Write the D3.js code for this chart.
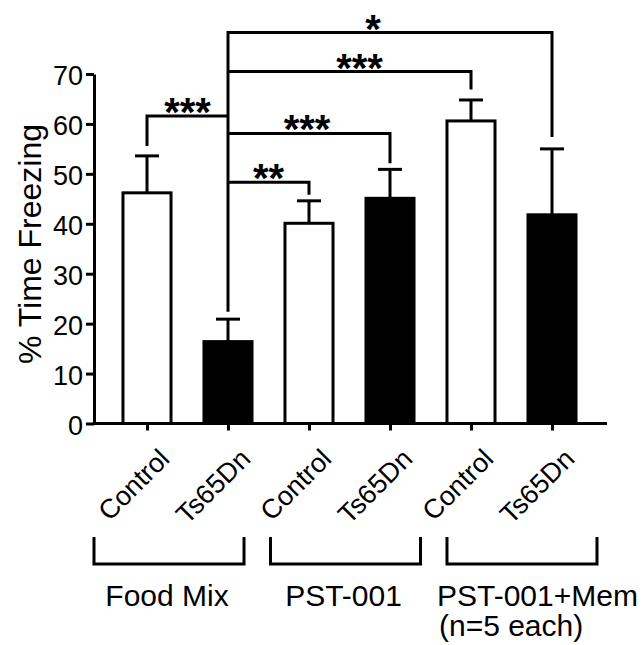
<!DOCTYPE html>
<html>
<head>
<meta charset="utf-8">
<script src="https://cdn.jsdelivr.net/npm/d3@7"></script>
<style>
  html, body { margin: 0; padding: 0; background: #fff; }
  svg { display: block; }
  text { font-family: Arial, "Liberation Sans", Helvetica, sans-serif; fill: #000; }
</style>
</head>
<body>
<svg id="chart" width="642" height="645"></svg>
<script>
// ---- data ----
const categories = ["Control", "Ts65Dn", "Control", "Ts65Dn", "Control", "Ts65Dn"];
const genotype   = ["control", "ts", "control", "ts", "control", "ts"];
const means      = [46.2, 16.4, 40.1, 45.1, 60.6, 41.8];
const sems       = [7.4, 4.5, 4.5, 5.8, 4.2, 13.2];
const groups     = ["Food Mix", "PST-001", "PST-001+Mem"];
const groupNote  = ["", "", "(n=5 each)"];
const yTicks     = [0, 10, 20, 30, 40, 50, 60, 70];
const yTitle     = "% Time Freezing";
// significance comparisons (hub = Ts65Dn Food Mix)
const sigPairs   = [[0, 1], [1, 2], [1, 3], [1, 4], [1, 5]];
const sigLevel   = [61.6, 48.3, 58.1, 70.5, 78.3];
const sigLegEnd  = [55.6, 45.8, 52.1, 66.9, 57.4];
const sigLabel   = ["***", "**", "***", "***", "*"];
const hubIndex   = 1;
const hubBottom  = 22.4;

// ---- layout ----
const svg = d3.select("#chart");
const SW = 3;
const axisLeftX = 94, axisRightX = 607;

const y = d3.scaleLinear().domain([0, 70]).range([423.5, 74]);
const x = d3.scaleBand().domain(d3.range(categories.length))
  .range([106.5, 592.5]).paddingInner(0.37).paddingOuter(0.185);
const cx = i => x(i) + x.bandwidth() / 2;
const gx = d3.scaleBand().domain(d3.range(groups.length))
  .range([94, 597]).paddingInner(0.15).paddingOuter(0);

// y axis
const yAxis = svg.append("g").attr("transform", `translate(${axisLeftX},0)`)
  .call(d3.axisLeft(y).tickValues(yTicks).tickSize(8).tickSizeOuter(0).tickPadding(3));
yAxis.select(".domain").attr("stroke", "#000").attr("stroke-width", SW);
yAxis.selectAll(".tick line").attr("stroke", "#000").attr("stroke-width", SW);
yAxis.selectAll(".tick text").attr("font-size", 27).attr("dy", "0.40em")
  .style("font-family", "Arial, 'Liberation Sans', sans-serif");

// y title
svg.append("text")
  .attr("transform", `translate(41,244) rotate(-90)`)
  .attr("text-anchor", "middle")
  .attr("font-size", 32)
  .text(yTitle);

// bars
svg.append("g").selectAll("rect").data(means).join("rect")
  .attr("x", (d, i) => x(i) + SW / 2)
  .attr("width", x.bandwidth() - SW)
  .attr("y", d => y(d))
  .attr("height", d => y(0) - y(d))
  .attr("fill", (d, i) => genotype[i] === "ts" ? "#000" : "#fff")
  .attr("stroke", "#000").attr("stroke-width", SW);

// error bars (upper only)
const eb = svg.append("g").attr("stroke", "#000").attr("stroke-width", SW);
means.forEach((m, i) => {
  eb.append("line").attr("x1", cx(i)).attr("x2", cx(i))
    .attr("y1", y(m)).attr("y2", y(m + sems[i]));
  eb.append("line").attr("x1", cx(i) - 12).attr("x2", cx(i) + 12)
    .attr("y1", y(m + sems[i])).attr("y2", y(m + sems[i]));
});

// x axis
const xAxis = svg.append("g").attr("transform", `translate(0,${y(0)})`)
  .call(d3.axisBottom(d3.scalePoint().domain(d3.range(categories.length))
      .range([cx(0), cx(categories.length - 1)]))
    .tickSize(7).tickFormat(""));
xAxis.select(".domain").remove();
xAxis.selectAll(".tick line").attr("stroke", "#000").attr("stroke-width", SW);
svg.append("line").attr("x1", axisLeftX - SW / 2).attr("x2", axisRightX)
  .attr("y1", y(0)).attr("y2", y(0)).attr("stroke", "#000").attr("stroke-width", SW);

// rotated category labels
svg.append("g").selectAll("text").data(categories).join("text")
  .attr("transform", (d, i) => `translate(${cx(i) + 24},${y(0) + 37}) rotate(-45)`)
  .attr("text-anchor", "end")
  .attr("font-size", 27)
  .text(d => d);

// group brackets
const gb = svg.append("g").attr("stroke", "#000").attr("stroke-width", SW).attr("fill", "none");
groups.forEach((g, i) => {
  const x0 = gx(i), x1 = gx(i) + gx.bandwidth();
  gb.append("path").attr("d", `M${x0},537 V564 H${x1} V537`);
});
svg.append("g").selectAll("text").data(groups).join("text")
  .attr("x", (d, i) => groupNote[i] ? gx(i) - 10 : gx(i) + gx.bandwidth() / 2 - 2)
  .attr("y", 606)
  .attr("text-anchor", (d, i) => groupNote[i] ? "start" : "middle")
  .attr("font-size", 30)
  .text(d => d);
svg.append("g").selectAll("text").data(groupNote.filter(d => d)).join("text")
  .attr("x", gx(groups.length - 1) - 8)
  .attr("y", 636)
  .attr("font-size", 30)
  .text(d => d);

// significance brackets
const sg = svg.append("g").attr("stroke", "#000").attr("stroke-width", SW).attr("fill", "none");
sg.append("line").attr("x1", cx(hubIndex)).attr("x2", cx(hubIndex))
  .attr("y1", y(d3.max(sigLevel)) - SW / 2).attr("y2", y(hubBottom));
const labelShift = [0, 0, -2, 10, -17];
sigPairs.forEach(([a, b], k) => {
  const other = a === hubIndex ? b : a;
  const yl = y(sigLevel[k]);
  sg.append("path")
    .attr("d", `M${cx(hubIndex)},${yl} H${cx(other)} V${y(sigLegEnd[k])}`);
  svg.append("text")
    .attr("x", (cx(a) + cx(b)) / 2 + labelShift[k])
    .attr("y", yl + 10)
    .attr("text-anchor", "middle")
    .attr("font-size", 40)
    .attr("font-weight", "bold")
    .text(sigLabel[k]);
});
</script>
</body>
</html>
